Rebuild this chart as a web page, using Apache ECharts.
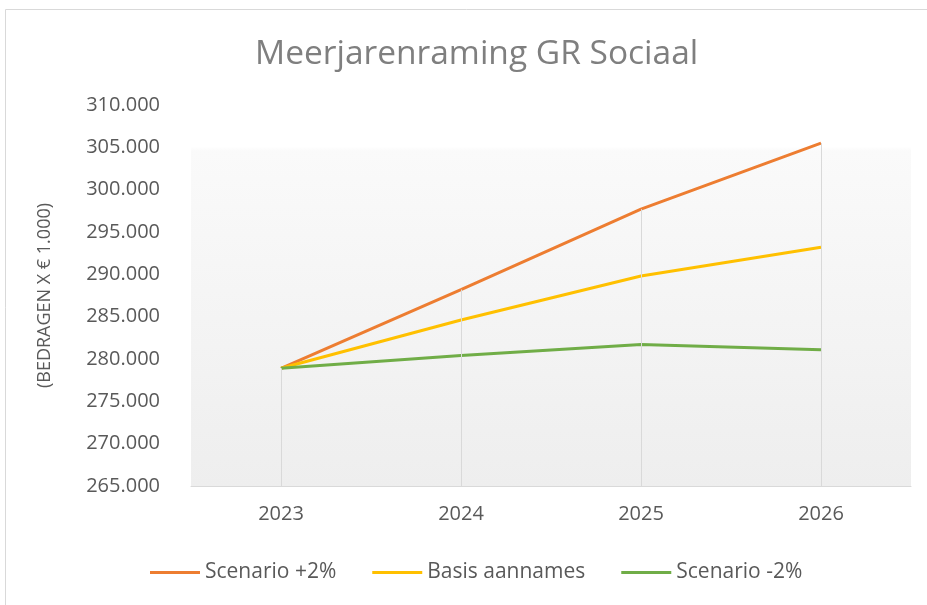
<!DOCTYPE html>
<html>
<head>
<meta charset="utf-8">
<script src="https://cdn.jsdelivr.net/npm/echarts@6/dist/echarts.min.js"></script>
<style>
  html, body { margin: 0; padding: 0; background: #fff; }
  #chart { width: 927px; height: 605px; }
</style>
</head>
<body>
<div id="chart"></div>
<script>
// jaren en bedragen (x € 1.000)
const years = ['2023', '2024', '2025', '2026']
const scenarioPlus = [278900, 288200, 297700, 305500]
const basis = [278900, 284600, 289800, 293200]
const scenarioMin = [278900, 280400, 281700, 281100]
const yMin = 265000
const yMax = 310000
const yStep = 5000

const textColor = '#595959'
const fontFamily = '"Open Sans", "DejaVu Sans", sans-serif'

const fmt = (v) => String(v).replace(/\B(?=(\d{3})+(?!\d))/g, '.')

// valloodlijnen vanaf de hoogste reeks naar de as
const dropLines = years.map((y, i) => [
  { coord: [i, Math.max(scenarioPlus[i], basis[i], scenarioMin[i])] },
  { coord: [i, yMin] }
])

const myChart = echarts.init(document.getElementById('chart'))

const option = {
  animation: false,
  textStyle: { fontFamily: fontFamily },
  graphic: [
    {
      type: 'rect',
      shape: { x: 5.5, y: 9.5, width: 940, height: 620 },
      style: { fill: 'none', stroke: '#d9d9d9', lineWidth: 1 },
      silent: true
    }
  ],
  title: {
    text: 'Meerjarenraming GR Sociaal',
    left: 250,
    top: 32,
    textStyle: {
      color: '#7f7f7f',
      fontSize: 33.5,
      fontWeight: 'normal',
      fontFamily: fontFamily
    }
  },
  grid: {
    left: 191,
    right: 16,
    top: 105,
    bottom: 119,
    show: true,
    borderWidth: 0,
    backgroundColor: new echarts.graphic.LinearGradient(0, 0, 0, 1, [
      { offset: 0, color: '#ffffff' },
      { offset: 0.11, color: '#ffffff' },
      { offset: 0.12, color: '#fafafa' },
      { offset: 1, color: '#eeeeee' }
    ])
  },
  legend: {
    data: ['Scenario +2%', 'Basis aannames', 'Scenario -2%'],
    top: 557,
    left: 145,
    icon: 'rect',
    itemWidth: 50,
    itemHeight: 3,
    itemGap: 36,
    textStyle: { color: textColor, fontSize: 21, fontFamily: fontFamily }
  },
  xAxis: {
    type: 'category',
    data: years,
    boundaryGap: true,
    axisLine: { lineStyle: { color: '#d9d9d9', width: 1 } },
    axisTick: { show: false },
    axisLabel: { color: textColor, fontSize: 20, margin: 18 },
    splitLine: { show: false }
  },
  yAxis: {
    type: 'value',
    min: yMin,
    max: yMax,
    interval: yStep,
    name: '(BEDRAGEN X € 1.000)',
    nameLocation: 'middle',
    nameGap: 137,
    nameRotate: 90,
    nameTextStyle: { color: textColor, fontSize: 18 },
    axisLine: { show: false },
    axisTick: { show: false },
    splitLine: { show: false },
    axisLabel: {
      color: textColor,
      fontSize: 20,
      margin: 31,
      formatter: fmt
    }
  },
  series: [
    {
      name: 'drop',
      type: 'line',
      data: [],
      silent: true,
      z: 1,
      markLine: {
        silent: true,
        symbol: 'none',
        label: { show: false },
        lineStyle: { color: '#d9d9d9', width: 1, type: 'solid' },
        data: dropLines
      }
    },
    {
      name: 'Scenario +2%',
      type: 'line',
      data: scenarioPlus,
      symbol: 'none',
      z: 3,
      lineStyle: { color: '#ED7D31', width: 3 },
      itemStyle: { color: '#ED7D31' }
    },
    {
      name: 'Basis aannames',
      type: 'line',
      data: basis,
      symbol: 'none',
      z: 3,
      lineStyle: { color: '#FFC000', width: 3 },
      itemStyle: { color: '#FFC000' }
    },
    {
      name: 'Scenario -2%',
      type: 'line',
      data: scenarioMin,
      symbol: 'none',
      z: 3,
      lineStyle: { color: '#70AD47', width: 3 },
      itemStyle: { color: '#70AD47' }
    }
  ]
}

option && myChart.setOption(option)
</script>
</body>
</html>
